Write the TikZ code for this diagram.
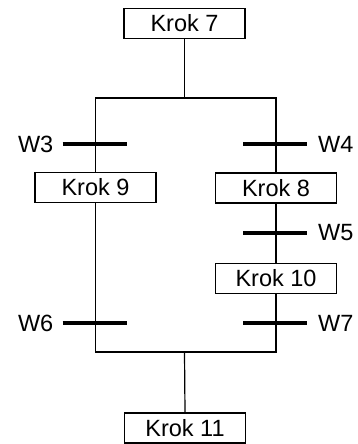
\documentclass[tikz,border=0pt]{standalone}
\usepackage{fontspec}
\setmainfont{Liberation Sans}
\begin{document}
\begin{tikzpicture}[x=1pt,y=-1pt,
  stepbox/.style={draw,line width=1.2pt,minimum width=121pt,minimum height=30pt,inner sep=0pt,font=\fontsize{23.5}{24}\selectfont},
  conn/.style={line width=1.2pt},
  bar/.style={line width=4pt},
  lbl/.style={inner sep=0pt,font=\fontsize{23.5}{24}\selectfont}]
\useasboundingbox (0,0) rectangle (357,444);
\node[stepbox] (k7) at (184.5,23.5) {Krok 7};
\node[stepbox] (k9) at (95.5,187.5) {Krok 9};
\node[stepbox] (k8) at (276,188) {Krok 8};
\node[stepbox] (k10) at (276,278.5) {Krok 10};
\node[stepbox] (k11) at (185,428) {Krok 11};
\coordinate (s1) at (184.5,98);
\coordinate (s2) at (184.5,352);
\coordinate (t3) at (95.5,144);
\coordinate (t4) at (276,144);
\coordinate (t5) at (276,233);
\coordinate (t6) at (95.5,323);
\coordinate (t7) at (276,323);
\draw[conn] (k7.south) -- (s1);
\draw[conn] (k9.north) |- (s1) -| (k8.north);
\draw[conn] (k8.south) -- (k10.north);
\draw[conn] (k9.south) |- (s2) -| (k10.south);
\draw[conn] (s2) -- (k11.north);
\foreach \t in {t3,t4,t5,t6,t7}{
  \draw[bar] ([xshift=-33pt]\t) -- ([xshift=31pt]\t);
}
\node[lbl,anchor=east] (w3) at ([xshift=-42pt]t3) {W3};
\node[lbl,anchor=west] (w4) at ([xshift=42pt]t4) {W4};
\node[lbl,anchor=west] (w5) at ([xshift=42pt]t5) {W5};
\node[lbl,anchor=east] (w6) at ([xshift=-42pt]t6) {W6};
\node[lbl,anchor=west] (w7) at ([xshift=42pt]t7) {W7};
\end{tikzpicture}
\end{document}
